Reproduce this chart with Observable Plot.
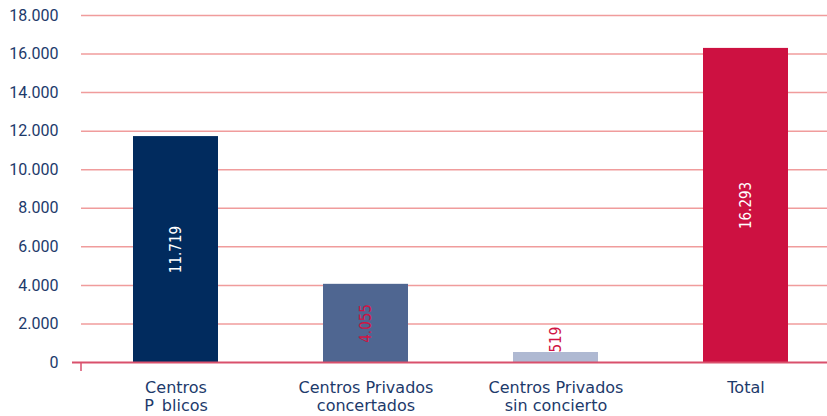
<!DOCTYPE html>
<html><head><meta charset="utf-8">
<script src="https://cdn.jsdelivr.net/npm/d3@7"></script>
<script src="https://cdn.jsdelivr.net/npm/@observablehq/plot@0.6"></script>
<style>body{margin:0;background:#fff;} #chart svg{display:block;}</style>
</head><body><div id="chart"></div>
<script>
const categories = ["Centros\nP\u2002blicos", "Centros Privados\nconcertados", "Centros Privados\nsin concierto", "Total"];
const values = [11719, 4055, 519, 16293];
const yTicks = [0, 2000, 4000, 6000, 8000, 10000, 12000, 14000, 16000, 18000];
const barColors = ["#012b5e", "#4f6691", "#afb9d2", "#cd1141"];
const lightBars = ["Centros Privados\nconcertados", "Centros Privados\nsin concierto"];

const data = categories.map((c, i) => ({category: c, value: values[i]}));
const fmt = d => d3.format(",")(d).replace(/,/g, ".");
const navy = "#1d3a6b";
const valueFont = "'DejaVu Sans Condensed', Roboto, sans-serif";

const chart = Plot.plot({
  width: 827, height: 416,
  marginLeft: 81, marginRight: 0, marginTop: 15, marginBottom: 54,
  style: {background: "#fff", fontFamily: "Roboto, sans-serif"},
  x: {domain: categories, range: [132, 788], paddingInner: 0.553, paddingOuter: 0, label: null},
  y: {domain: [0, 18000], label: null},
  color: {domain: categories, range: barColors},
  marks: [
    Plot.gridY(yTicks.filter(t => t > 0), {stroke: "#f09c9c", strokeOpacity: 1, strokeWidth: 1.5}),
    Plot.axisY(yTicks, {tickSize: 0, tickPadding: 23, tickFormat: fmt, fontSize: 16, color: navy, fontFamily: "Roboto, sans-serif", label: null}),
    Plot.barY(data, {x: "category", y: "value", fill: "category"}),
    Plot.ruleY([0], {stroke: "#d9506c", strokeWidth: 2, insetLeft: -9}),
    (index, scales, values, dim) => {
      const g = d3.create("svg:line")
        .attr("x1", dim.marginLeft).attr("x2", dim.marginLeft)
        .attr("y1", scales.y(0)).attr("y2", scales.y(0) + 9)
        .attr("stroke", "#d9506c").attr("stroke-width", 1.5);
      return g.node();
    },
    Plot.axisX({tickSize: 0, tickPadding: 17, fontSize: 16, lineHeight: 1.15, color: navy, fontFamily: "'DejaVu Sans', sans-serif", label: null}),
    Plot.text(data.filter(d => d.value >= 2000), {
      x: "category", y: d => d.value / 2, text: d => fmt(d.value), rotate: -90,
      fill: d => lightBars.includes(d.category) ? "#d01444" : "#ffffff",
      fontSize: 15, fontFamily: valueFont
    }),
    Plot.text(data.filter(d => d.value < 2000), {
      x: "category", y: "value", text: d => fmt(d.value), rotate: -90, textAnchor: "start", dx: 0,
      fill: "#d01444", fontSize: 15, fontFamily: valueFont
    })
  ]
});
document.getElementById("chart").appendChild(chart);
</script>
</body></html>
